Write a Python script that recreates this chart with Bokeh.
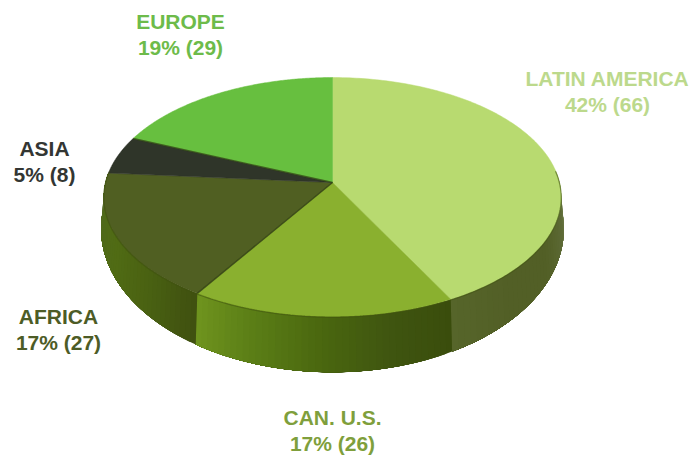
import numpy as np
from bokeh.plotting import figure
from bokeh.models import Range1d
from bokeh.core.properties import value
from bokeh.embed import file_html
from bokeh.resources import INLINE

categories = ["LATIN AMERICA", "CAN. U.S.", "AFRICA", "ASIA", "EUROPE"]
percents = [42, 17, 17, 5, 19]
counts = [66, 26, 27, 8, 29]
face_colors = ["#b8da70", "#8ab02f", "#505f22", "#2f3529", "#67bf3f"]
label_colors = ["#bcd98c", "#7f9f3c", "#4d5c26", "#333633", "#6dbb4a"]
label_x = [607, 332, 58, 44, 180]
label_y = [78, 417, 316, 148, 21]

wall_stops = {
    "LATIN AMERICA": ["#7d8a58", "#5f6c38", "#525f26", "#525f26", "#56652a"],
    "CAN. U.S.": ["#3a4d0c", "#3f5510", "#4a670f", "#5a7d16", "#6f941e"],
    "AFRICA": ["#3f5010", "#4a6212", "#506b14", "#4f6a1a", "#5b6c32"],
}

VX, VY = 332, 182        # pie centre on the picture
RX, RY, K = 227, 117.7, 0.1213   # radii and perspective of the top face
WALL_DY, WALL_S, WALL_SX = 29, 1.2, 1.012   # lower rim of the wall


def top_rim(theta):
    u, v = np.sin(theta), np.cos(theta)
    w = 1 + K * v
    return VX + RX * u / w, VY - RY * v / w


def low_rim(theta):
    u, v = np.sin(theta), np.cos(theta)
    w = 1 + K * v
    return VX + WALL_SX * RX * u / w, VY + WALL_DY - WALL_S * RY * v / w


def hex2rgb(h):
    return np.array([int(h[i:i + 2], 16) for i in (1, 3, 5)], float)


def mix(stops, f):
    pos = f * (len(stops) - 1)
    i = min(int(pos), len(stops) - 2)
    t = pos - i
    c = hex2rgb(stops[i]) * (1 - t) + hex2rgb(stops[i + 1]) * t
    return "#%02x%02x%02x" % tuple(int(round(a)) for a in c)


p = figure(width=692, height=456, output_backend="svg", toolbar_location=None,
           x_range=Range1d(0, 692), y_range=Range1d(456, 0),
           x_axis_location=None, y_axis_location=None,
           min_border=0, outline_line_color=None, background_fill_color="white")
p.grid.visible = False

edges = np.concatenate([[0], np.cumsum(counts)]) / sum(counts) * 2 * np.pi
vis_lo, vis_hi = np.radians(84), np.radians(276)

# side wall: painted back to front so each band overlaps the one before
for i, name in enumerate(categories):
    if name not in wall_stops:
        continue
    a0, a1 = max(edges[i], vis_lo), min(edges[i + 1], vis_hi)
    n = 40
    ts = np.linspace(a0, a1, n + 1)
    for j in range(n):
        t = np.linspace(ts[j], a1, 30)
        x0, y0 = top_rim(t)
        x1, y1 = low_rim(t)
        col = mix(wall_stops[name], (j + 0.5) / n)
        p.patch(np.r_[x0, x1[::-1]], np.r_[y0, y1[::-1]], fill_color=col, line_color=None)

# top face
for i, name in enumerate(categories):
    t = np.linspace(edges[i], edges[i + 1], 160)
    x, y = top_rim(t)
    p.patch(np.r_[VX, x], np.r_[VY, y], fill_color=face_colors[i],
            line_color=face_colors[i], line_width=0.5)

# darker rim under the top face and slice seams
t = np.linspace(vis_lo, vis_hi, 300)
x, y = top_rim(t)
p.line(x, y + 0.8, line_color="#3f5210", line_width=1.2, line_alpha=0.55)
for k in (2, 4):
    x, y = top_rim(np.array([edges[k]]))
    p.line([VX, x[0]], [VY, y[0]], line_color="#2c3a10", line_width=1.4, line_alpha=0.7)

# labels
for i, name in enumerate(categories):
    p.text([label_x[i]], [label_y[i]], text=[name], text_color=label_colors[i],
           text_font=value("Liberation Sans"), text_font_style="bold",
           text_font_size="21px", text_align="center", text_baseline="middle")
    p.text([label_x[i]], [label_y[i] + 26], text=[f"{percents[i]}% ({counts[i]})"],
           text_color=label_colors[i], text_font=value("Liberation Sans"),
           text_font_style="bold", text_font_size="21px",
           text_align="center", text_baseline="middle")

open("out.html", "w").write(file_html(p, INLINE))
